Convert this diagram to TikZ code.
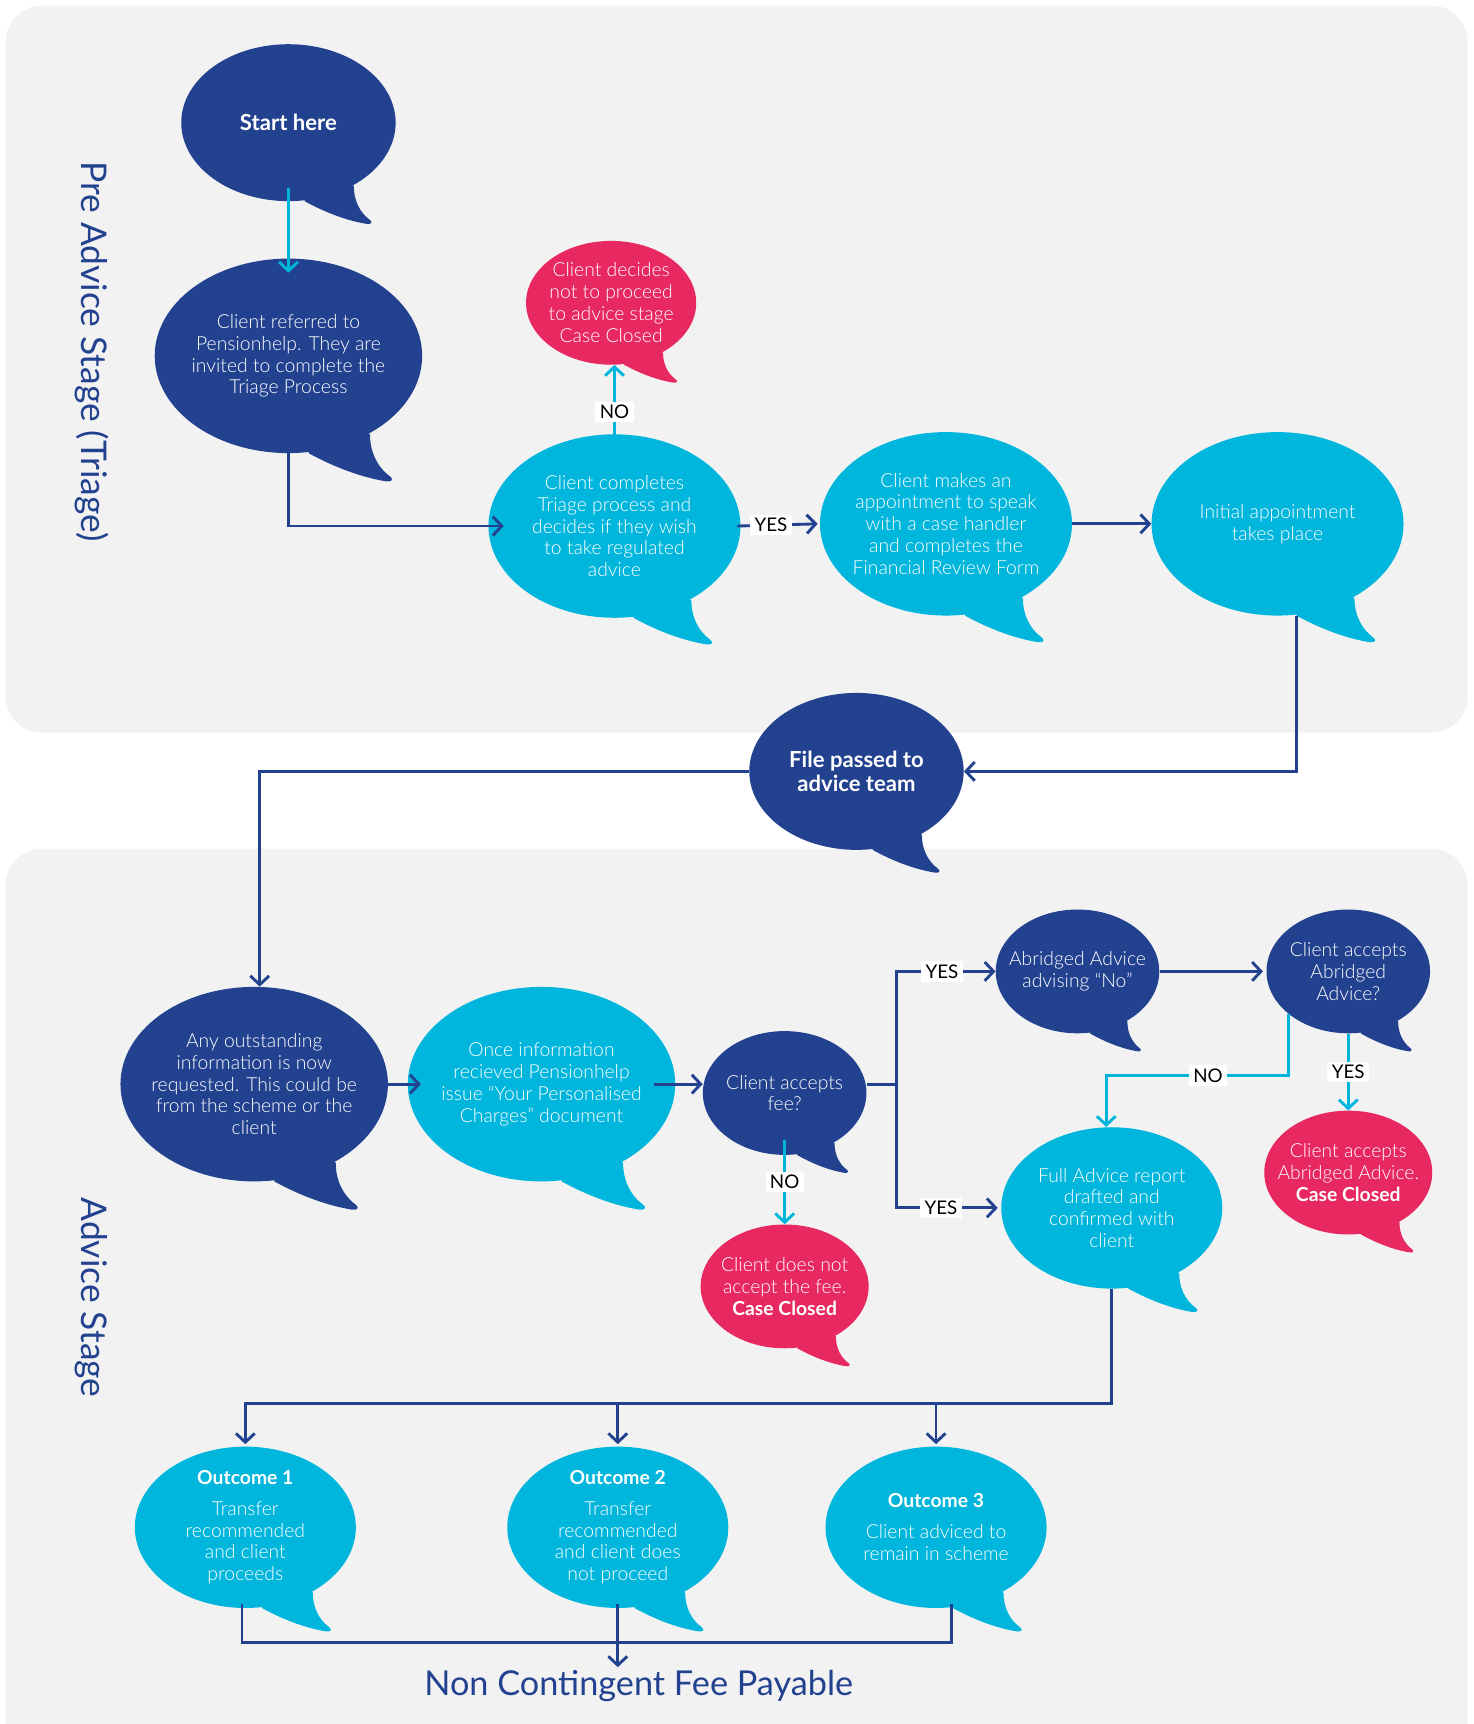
\documentclass[tikz,border=0pt]{standalone}
\usepackage{fontspec}
\setmainfont{Lato}[UprightFont=* Light, BoldFont=* Bold]
\newfontfamily\regfont{Lato}
\usetikzlibrary{shapes.geometric,arrows.meta}

\definecolor{navy}{RGB}{34,65,143}
\definecolor{sky}{RGB}{0,182,220}
\definecolor{rose}{RGB}{232,40,96}
\definecolor{panel}{RGB}{242,242,242}

% speech bubble: [text options]{name}{colour}{centre}{rx}{ry}{text}
\newcommand{\bubble}[7][]{%
  \node[bubble, fill=#3, minimum width=2*#5, minimum height=2*#6] (#2) at (#4) {};
  \fill[#3, shift={(#2.center)}, x=#5pt, y=-#6pt]
    (0.61,0.81) .. controls (0.61,0.98) and (0.66,1.14) .. (0.76,1.24)
    .. controls (0.79,1.27) and (0.77,1.30) .. (0.73,1.29)
    .. controls (0.55,1.25) and (0.35,1.15) .. (0.15,1)
    -- (0.3,0.5) -- cycle;
  \node[bubbletext, #1] (#2-t) at (#2.center) {#7};
}

\begin{document}
\begin{tikzpicture}[x=1pt, y=-1pt,
    bubble/.style={ellipse, inner sep=0pt, draw=none},
    bubbletext/.style={text=white, align=center, inner sep=0pt,
      font=\fontsize{17.5}{19.8}\selectfont},
    nline/.style={draw=navy, line width=2.6pt},
    sline/.style={draw=sky, line width=2.6pt},
    arrow/.style={-{Straight Barb[length=8pt,width=17pt]}},
    lab/.style={fill=white, text=black, inner xsep=4pt, inner ysep=3pt,
      font=\regfont\fontsize{17}{19}\selectfont},
    stage/.style={text=navy, font=\regfont\fontsize{32}{36}\selectfont}]

    \useasboundingbox (0,0) rectangle (1333,1560);
    \clip (0,0) rectangle (1333,1560);

    % panels
    \fill[panel, rounded corners=33pt] (5,5) rectangle (1328,663);
    \fill[panel, rounded corners=33pt] (5,768) rectangle (1328,1640);

    \node[stage, rotate=-90] (pre) at (83,318) {Pre Advice Stage (Triage)};
    \node[stage, rotate=-90] (adv) at (83,1174) {Advice Stage};

    % pre advice stage
    \bubble[font=\bfseries\fontsize{20}{23}\selectfont]{start}{navy}{261,111}{97}{71}{Start here}
    \bubble{referred}{navy}{261,322}{121}{88}{Client referred to\\Pensionhelp. They are\\invited to complete the\\Triage Process}
    \bubble{decides}{rose}{553,274}{77}{56}{Client decides\\not to proceed\\to advice stage\\Case Closed}
    \bubble{completes}{sky}{556,476}{114}{83}{Client completes\\Triage process and\\decides if they wish\\to take regulated\\advice}
    \bubble{makes}{sky}{856,474}{114}{83}{Client makes an\\appointment to speak\\with a case handler\\and completes the\\Financial Review Form}
    \bubble{initial}{sky}{1156,474}{114}{83}{Initial appointment\\takes place}
    \bubble[font=\bfseries\fontsize{20}{22.5}\selectfont]{file}{navy}{775,698}{97}{71}{File passed to\\advice team}

    % advice stage
    \bubble{any}{navy}{230,981}{121}{88}{Any outstanding\\information is now\\requested. This could be\\from the scheme or the\\client}
    \bubble{once}{sky}{490,981}{121}{88}{Once information\\recieved Pensionhelp\\issue “Your Personalised\\Charges” document}
    \bubble{fee}{navy}{710,989}{74}{56}{Client accepts\\fee?}
    \bubble{notaccept}{rose}{710,1164}{76}{56}{Client does not\\accept the fee.\\\textbf{Case Closed}}
    \bubble{abridged}{navy}{975,879}{74}{56}{Abridged Advice\\advising “No”}
    \bubble{accq}{navy}{1220,879}{74}{56}{Client accepts\\Abridged\\Advice?}
    \bubble{closed}{rose}{1220,1061}{76}{56}{Client accepts\\Abridged Advice.\\\textbf{Case Closed}}
    \bubble{full}{sky}{1006,1093}{100}{73}{Full Advice report\\drafted and\\confirmed with\\client}
    \bubble{out1}{sky}{222,1382}{100}{73}{\textbf{Outcome 1}\\[8pt]Transfer\\recommended\\and client\\proceeds}
    \bubble{out2}{sky}{559,1382}{100}{73}{\textbf{Outcome 2}\\[8pt]Transfer\\recommended\\and client does\\not proceed}
    \bubble{out3}{sky}{847,1382}{100}{73}{\textbf{Outcome 3}\\[8pt]Client adviced to\\remain in scheme}

    \node[text=navy, font=\regfont\fontsize{31}{35}\selectfont, inner sep=3pt] (payable) at (578,1526) {Non Contingent Fee Payable};

    % connectors, pre advice
    \draw[sline,arrow] ([yshift=12pt]start.south) -- ([yshift=-13pt]referred.north);
    \draw[nline,arrow] (referred.south) |- ([xshift=14pt]completes.west);
    \draw[sline,arrow] ([yshift=-3pt]completes.north) -- node[lab,pos=0.35]{NO} (completes.north |- decides.south);
    \draw[nline,arrow] ([xshift=-3pt]completes.east) -- node[lab,pos=0.42]{YES} ([xshift=-2pt]makes.west);
    \draw[nline,arrow] (makes.east) -- (initial.west);
    \draw[nline,arrow] ([xshift=17pt]initial.south) |- (file.east);
    \draw[nline,arrow] (file.west) -| ([xshift=5pt]any.north);

    % connectors, advice
    \draw[nline,arrow] (any.east) -- ([xshift=12pt]once.west);
    \draw[nline,arrow] ([xshift=-19pt]once.east) -- ([yshift=8pt]fee.west);
    \coordinate (fork) at (811,981);
    \draw[nline] ([yshift=8pt]fee.east) -- (fork);
    \draw[nline,arrow] (fork) |- node[lab,pos=0.73]{YES} (abridged.west);
    \draw[nline,arrow] (fork) |- node[lab,pos=0.72]{YES} ([xshift=-3pt]full.west);
    \draw[sline,arrow] ([yshift=14pt]fee.south) -- node[lab]{NO} (notaccept.north);
    \draw[nline,arrow] (abridged.east) -- ([xshift=-3pt]accq.west);
    \draw[sline,arrow] (accq.215) -- ++(0,56) -| node[lab,pos=0.22]{NO} ([xshift=-5pt]full.north);
    \draw[sline,arrow] (accq.south) -- node[lab]{YES} (closed.north);

    % outcomes
    \draw[nline,arrow] (full.south) |- ([yshift=39pt]out1.north) -- ([yshift=2pt]out1.north);
    \draw[nline,arrow] ([yshift=39pt]out2.north) -- ([yshift=2pt]out2.north);
    \draw[nline,arrow] ([yshift=39pt]out3.north) -- ([yshift=2pt]out3.north);
    \draw[nline] ([xshift=-3pt,yshift=4pt]out1.south) |- ([xshift=14pt,yshift=-31pt]out3.south) -- ([xshift=14pt,yshift=4pt]out3.south);
    \draw[nline,arrow] ([yshift=4pt]out2.south) -- (out2.south |- payable.north);
\end{tikzpicture}
\end{document}
